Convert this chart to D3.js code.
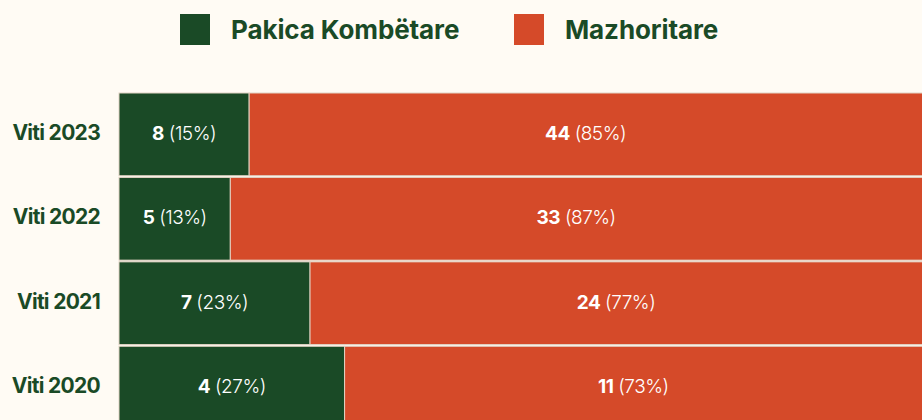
<!DOCTYPE html>
<html>
<head>
<meta charset="utf-8">
<script src="https://cdn.jsdelivr.net/npm/d3@7"></script>
<style>
  html, body { margin: 0; padding: 0; background: #fffbf4; }
  svg { display: block; font-family: Inter, "Noto Sans", sans-serif; }
</style>
</head>
<body>
<div id="chart"></div>
<script>
const years = ['Viti 2023', 'Viti 2022', 'Viti 2021', 'Viti 2020'];
const minority = [8, 5, 7, 4];
const majority = [44, 33, 24, 11];
const minorityPct = [15, 13, 23, 27];
const majorityPct = [85, 87, 77, 73];
const seriesNames = ['Pakica Kombëtare', 'Mazhoritare'];
const colors = ['#1a4a26', '#d54a29'];

const width = 922;
const height = 420;
const margin = { top: 93, left: 119 };

const svg = d3.select('#chart')
  .append('svg')
  .attr('width', width)
  .attr('height', height);

svg.append('rect')
  .attr('width', width)
  .attr('height', height)
  .attr('fill', '#fffbf4');

// legend
const legend = svg.append('g');
const legendX = [180, 514];
seriesNames.forEach((name, i) => {
  legend.append('rect')
    .attr('x', legendX[i])
    .attr('y', 14)
    .attr('width', 30)
    .attr('height', 31)
    .attr('fill', colors[i]);
  legend.append('text')
    .attr('x', legendX[i] + 51)
    .attr('y', 39)
    .attr('fill', '#1a4a26')
    .attr('font-size', 26)
    .attr('font-weight', 700)
    .attr('letter-spacing', -0.1)
    .text(name);
});

const rows = years.map((y, i) => ({
  year: y,
  a: minority[i], b: majority[i],
  pa: minorityPct[i], pb: majorityPct[i],
  share: minority[i] / (minority[i] + majority[i]) * 100
}));

const x = d3.scaleLinear()
  .domain([0, 100])
  .range([margin.left, 965]);

const y = d3.scaleBand()
  .domain(years)
  .range([margin.top, margin.top + 4 * 84])
  .paddingInner(0.02);

const g = svg.append('g');

const row = g.selectAll('g.row')
  .data(rows)
  .enter()
  .append('g')
  .attr('class', 'row');

row.append('rect')
  .attr('x', x(0))
  .attr('y', d => y(d.year))
  .attr('width', d => x(d.share) - x(0))
  .attr('height', y.bandwidth())
  .attr('fill', colors[0])
  .attr('stroke', '#e2d3c4')
  .attr('stroke-width', 1);

row.append('rect')
  .attr('x', d => x(d.share))
  .attr('y', d => y(d.year))
  .attr('width', d => x(100) - x(d.share))
  .attr('height', y.bandwidth())
  .attr('fill', colors[1])
  .attr('stroke', '#e2d3c4')
  .attr('stroke-width', 1);

// year labels
row.append('text')
  .attr('x', 100)
  .attr('y', d => y(d.year) + y.bandwidth() / 2 - 2)
  .attr('dy', '0.35em')
  .attr('text-anchor', 'end')
  .attr('fill', '#1a4a26')
  .attr('font-size', 21)
  .attr('font-weight', 700)
  .attr('letter-spacing', -0.7)
  .text(d => d.year);

function valueLabel(sel, cx, num, pct) {
  const t = sel.append('text')
    .attr('x', cx)
    .attr('y', d => y(d.year) + y.bandwidth() / 2 - 1)
    .attr('dy', '0.35em')
    .attr('text-anchor', 'middle')
    .attr('fill', '#fff')
    .attr('font-size', 19)
    .attr('letter-spacing', -0.5);
  t.append('tspan').attr('font-weight', 700).text(num);
  t.append('tspan').attr('font-weight', 300).text(d => ' (' + pct(d) + '%)');
}

valueLabel(row, d => (x(0) + x(d.share)) / 2, d => d.a, d => d.pa);
valueLabel(row, d => (x(d.share) + Math.min(x(100), width)) / 2, d => d.b, d => d.pb);
</script>
</body>
</html>
